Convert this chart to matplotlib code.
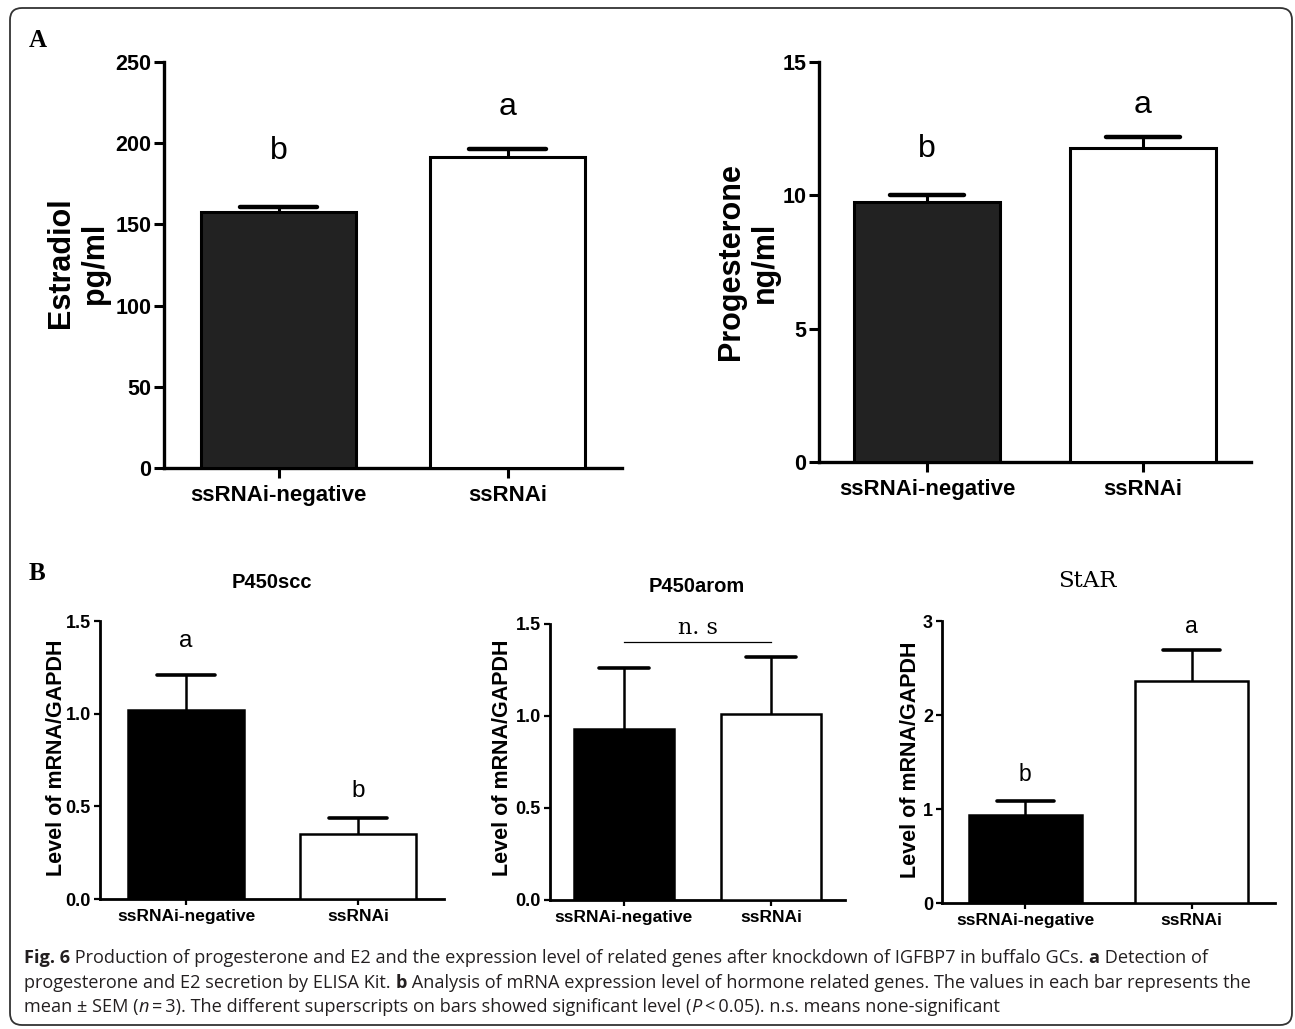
import matplotlib
matplotlib.use("Agg")
import matplotlib.pyplot as plt
from matplotlib.patches import FancyBboxPatch

W, H = 1295, 1029

groups = ["ssRNAi-negative", "ssRNAi"]

# panel A: hormone secretion (ELISA)
estradiol_mean = [157.5, 191.5]
estradiol_sem = [3.5, 5.0]
estradiol_letters = ["b", "a"]

progesterone_mean = [9.76, 11.78]
progesterone_sem = [0.26, 0.42]
progesterone_letters = ["b", "a"]

# panel B: mRNA / GAPDH
p450scc_mean = [1.02, 0.35]
p450scc_sem = [0.19, 0.087]
p450scc_letters = ["a", "b"]

p450arom_mean = [0.93, 1.01]
p450arom_sem = [0.33, 0.31]

star_mean = [0.94, 2.36]
star_sem = [0.15, 0.33]
star_letters = ["b", "a"]

caption = [
    [("Fig. 6", "bold", "normal"),
     (" Production of progesterone and E2 and the expression level of related genes after "
      "knockdown of IGFBP7 in buffalo GCs. ", "normal", "normal"),
     ("a", "bold", "normal"), (" Detection of", "normal", "normal")],
    [("progesterone and E2 secretion by ELISA Kit. ", "normal", "normal"),
     ("b", "bold", "normal"),
     (" Analysis of mRNA expression level of hormone related genes. The values in each bar "
      "represents the", "normal", "normal")],
    [("mean \u00b1 SEM (", "normal", "normal"), ("n", "normal", "italic"),
     ("\u2009=\u20093). The different superscripts on bars showed significant level (", "normal", "normal"),
     ("P", "normal", "italic"), ("\u2009<\u20090.05). n.s. means none-significant", "normal", "normal")],
]

SANS = ["Liberation Sans", "DejaVu Sans"]
NARROW = ["Liberation Sans Narrow", "Liberation Sans", "DejaVu Sans"]

fig = plt.figure(figsize=(W / 100, H / 100), dpi=100)


def px_axes(left, top, right, bottom):
    return fig.add_axes([left / W, 1 - bottom / H, (right - left) / W, (bottom - top) / H])


def px_text(x, y, s, **kw):
    return fig.text(x / W, 1 - y / H, s, **kw)


def bar_panel(ax, means, sems, fills, ylim, yticks, ylabels, big):
    x = list(range(len(means)))
    width = 0.68
    if big:
        lw, cap_lw, tlen, tw = 2.2, 3.2, 7.2, 2.2
        yfs, xfs, yfam = 15.5, 16, SANS
    else:
        lw, cap_lw, tlen, tw = 1.8, 2.6, 4.5, 1.6
        yfs, xfs, yfam = 13, 12.5, NARROW
    ax.bar(x, means, width=width, color=fills, edgecolor="black", linewidth=lw, zorder=3)
    tops = [m + s for m, s in zip(means, sems)]
    ax.vlines(x, means, tops, color="black", linewidth=lw, zorder=2)
    caps = ax.hlines(tops, [i - width / 4 for i in x], [i + width / 4 for i in x],
                     color="black", linewidth=cap_lw, zorder=2)
    caps.set_capstyle("round")
    ax.set_xlim(-0.5, 1.5)
    ax.set_ylim(*ylim)
    ax.set_yticks(yticks, ylabels)
    ax.set_xticks(x, groups)
    for s in ("top", "right"):
        ax.spines[s].set_visible(False)
    for s in ("left", "bottom"):
        ax.spines[s].set_linewidth(lw + 0.2)
    ax.tick_params(direction="out", length=tlen, width=tw)
    ax.tick_params(axis="y", pad=2)
    ax.tick_params(axis="x", pad=5 if big else 3)
    for t in ax.get_yticklabels():
        t.set_fontfamily(yfam)
        t.set_fontsize(yfs)
        t.set_fontweight("bold")
    for t in ax.get_xticklabels():
        t.set_fontfamily(SANS)
        t.set_fontsize(xfs)
        t.set_fontweight("bold")
    ax.patch.set_alpha(0)


def letters(ax, labels, heights, size):
    for i, (lab, h) in enumerate(zip(labels, heights)):
        ax.text(i, h, lab, ha="center", va="baseline", fontsize=size, family=NARROW)


# ---- A: estradiol
ax1 = px_axes(164, 62, 622, 468)
bar_panel(ax1, estradiol_mean, estradiol_sem, ["#222222", "white"], (0, 250),
          [0, 50, 100, 150, 200, 250], ["0", "50", "100", "150", "200", "250"], True)
letters(ax1, estradiol_letters, [190.4, 217.4], 23)
px_text(78, 263, "Estradiol\npg/ml", rotation=90, ha="center", va="center",
        fontsize=22, fontweight="bold", family=SANS, linespacing=1.15)

# ---- A: progesterone
ax2 = px_axes(819, 62, 1251, 462)
bar_panel(ax2, progesterone_mean, progesterone_sem, ["#222222", "white"], (0, 15),
          [0, 5, 10, 15], ["0", "5", "10", "15"], True)
letters(ax2, progesterone_letters, [11.44, 13.08], 23)
px_text(748, 262, "Progesterone\nng/ml", rotation=90, ha="center", va="center",
        fontsize=22, fontweight="bold", family=SANS, linespacing=1.15)

# ---- B: P450scc
ax3 = px_axes(100, 621, 444, 899)
bar_panel(ax3, p450scc_mean, p450scc_sem, ["black", "white"], (0, 1.5),
          [0, 0.5, 1.0, 1.5], ["0.0", "0.5", "1.0", "1.5"], False)
letters(ax3, p450scc_letters, [1.362, 0.552], 17.5)
px_text(272, 588, "P450scc", ha="center", va="baseline", fontsize=14.5,
        fontweight="bold", family=SANS)
px_text(57, 758, "Level of mRNA/GAPDH", rotation=90, ha="center", va="center",
        fontsize=15.5, fontweight="bold", family=SANS)

# ---- B: P450arom
ax4 = px_axes(550, 624, 845, 900)
bar_panel(ax4, p450arom_mean, p450arom_sem, ["black", "white"], (0, 1.5),
          [0, 0.5, 1.0, 1.5], ["0.0", "0.5", "1.0", "1.5"], False)
ax4.plot([0, 1], [1.404, 1.404], color="black", linewidth=0.9)
ax4.text(0.5, 1.446, "n. s", ha="center", va="baseline", fontsize=16, family="DejaVu Serif")
px_text(697, 592, "P450arom", ha="center", va="baseline", fontsize=14.5,
        fontweight="bold", family=SANS)
px_text(503, 758, "Level of mRNA/GAPDH", rotation=90, ha="center", va="center",
        fontsize=15.5, fontweight="bold", family=SANS)

# ---- B: StAR
ax5 = px_axes(942, 621, 1275, 903)
bar_panel(ax5, star_mean, star_sem, ["black", "white"], (0, 3),
          [0, 1, 2, 3], ["0", "1", "2", "3"], False)
letters(ax5, star_letters, [1.30, 2.876], 16.5)
px_text(1087, 587, "StAR", ha="center", va="baseline", fontsize=16.5, family="DejaVu Serif")
px_text(910, 760, "Level of mRNA/GAPDH", rotation=90, ha="center", va="center",
        fontsize=15.5, fontweight="bold", family=SANS)

# panel letters
px_text(29, 47, "A", fontsize=18, fontweight="bold", family="Liberation Serif", va="baseline")
px_text(29, 580, "B", fontsize=18, fontweight="bold", family="Liberation Serif", va="baseline")

# caption, drawn piece by piece so bold / italic words sit inline
renderer = fig.canvas.get_renderer()
for line, base in zip(caption, [963, 988, 1012]):
    xpos = 24
    for txt, weight, style in line:
        t = px_text(xpos, base, txt, fontsize=13.1, fontweight=weight, fontstyle=style,
                    family=["Open Sans", "DejaVu Sans"], color="#231f20", va="baseline")
        xpos += t.get_window_extent(renderer).width

# rounded frame around the whole figure
frame = FancyBboxPatch((10, H - 1025), 1282, 1017, boxstyle="round,pad=0,rounding_size=12",
                       transform=None, fill=False, edgecolor="#333333", linewidth=1.3)
fig.patches.append(frame)

fig.savefig("out.png", dpi=100)
